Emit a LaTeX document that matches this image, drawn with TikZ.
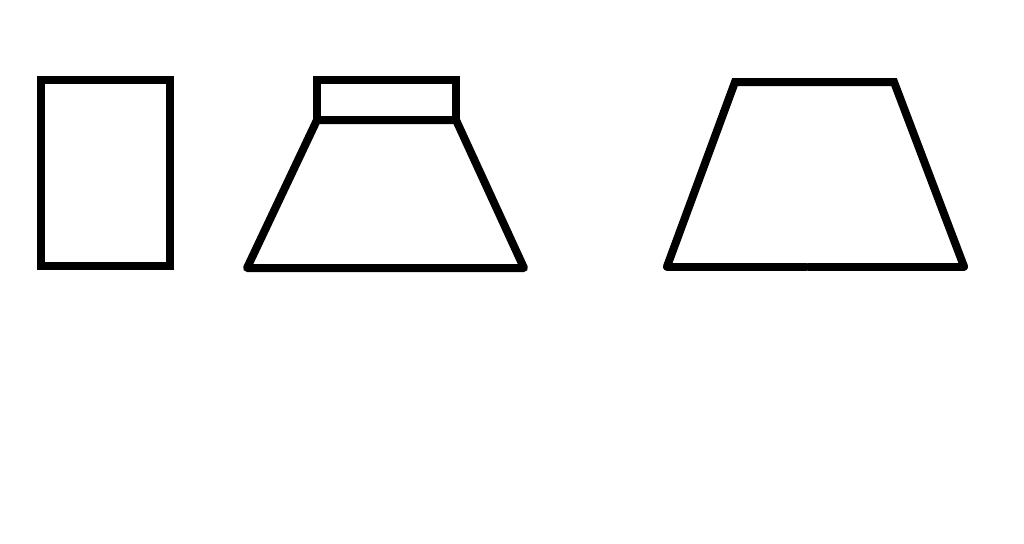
\documentclass[tikz,border=0pt]{standalone}
\begin{document}
\begin{tikzpicture}[x=1pt,y=-1pt,
  shape line/.style={draw=black,line width=8pt,line join=miter},
  base line/.style={draw=black,line width=8pt,line cap=round}]
\useasboundingbox (0,0) rectangle (1024,543);
% plain rectangle
\draw[shape line] (40.5,79.5) rectangle (170,266);
% small rectangle on top of trapezoid
\draw[shape line] (317,120) -- (317,80) -- (456,80) -- (456,120);
\draw[shape line,line join=round] (247,268) -- (317,120) -- (456,120) -- (524,268) -- cycle;
% trapezoid with split base
\draw[shape line,line cap=round] (667,266.5) -- (735,82) -- (894,82) -- (964,266.5);
\draw[base line] (667,266.5) -- (806,266.5);
\draw[base line] (808.5,266.5) -- (964,266.5);
\end{tikzpicture}
\end{document}
